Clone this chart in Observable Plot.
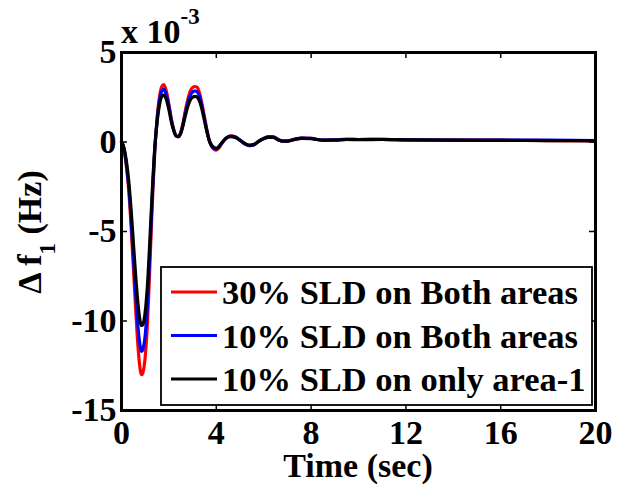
<!DOCTYPE html>
<html>
<head>
<meta charset="utf-8">
<script src="https://cdn.jsdelivr.net/npm/d3@7"></script>
<script src="https://cdn.jsdelivr.net/npm/@observablehq/plot@0.6"></script>
<style>
  html, body { margin: 0; padding: 0; background: #fff; }
  #chart { width: 625px; height: 493px; }
</style>
</head>
<body>
<div id="chart"></div>
<script>
// ---- data (values in units of 1e-3 Hz) ----
const seriesNames = ["30% SLD on Both areas", "10% SLD on Both areas", "10% SLD on only area-1"];
const seriesColors = ["#ff0000", "#0000ff", "#000000"];

const time = [0, 0.1, 0.2, 0.3, 0.4, 0.5, 0.6, 0.7, 0.8, 0.85, 0.9, 1.0, 1.1, 1.2, 1.3, 1.4, 1.5, 1.6, 1.7, 1.78, 1.9, 2.0, 2.1, 2.2, 2.3, 2.4, 2.5, 2.6, 2.7, 2.8, 2.9, 3.0, 3.1, 3.2, 3.3, 3.4, 3.5, 3.6, 3.7, 3.8, 3.9, 4.0, 4.1, 4.2, 4.4, 4.6, 4.8, 5.0, 5.2, 5.4, 5.6, 5.8, 6.0, 6.2, 6.4, 6.6, 6.8, 7.0, 7.3, 7.6, 8.0, 8.5, 9, 9.5, 10, 11, 12, 14, 16, 18, 20];

const sld30Both = [0, -0.4, -1.3, -2.6, -4.6, -7.0, -9.4, -11.5, -12.8, -13.0, -12.9, -12.0, -10.0, -6.8, -3.4, -0.6, 1.3, 2.5, 3.1, 3.2, 2.8, 2.1, 1.3, 0.7, 0.35, 0.3, 0.55, 1.1, 1.8, 2.4, 2.85, 3.05, 3.1, 3.05, 2.7, 2.1, 1.4, 0.7, 0.1, -0.25, -0.4, -0.45, -0.35, -0.15, 0.2, 0.35, 0.3, 0.1, -0.1, -0.2, -0.15, 0.05, 0.2, 0.3, 0.3, 0.15, 0.05, 0.05, 0.15, 0.22, 0.2, 0.1, 0.12, 0.15, 0.14, 0.15, 0.12, 0.1, 0.1, 0.08, 0.06];

const sld10Both = [0, -0.35, -1.2, -2.4, -4.2, -6.4, -8.5, -10.4, -11.5, -11.7, -11.6, -10.8, -9.0, -6.1, -3.0, -0.5, 1.2, 2.3, 2.85, 2.95, 2.6, 2.0, 1.25, 0.7, 0.35, 0.3, 0.5, 1.0, 1.65, 2.2, 2.6, 2.8, 2.85, 2.8, 2.5, 1.95, 1.3, 0.65, 0.1, -0.2, -0.35, -0.4, -0.3, -0.12, 0.2, 0.33, 0.28, 0.1, -0.1, -0.2, -0.15, 0.05, 0.2, 0.28, 0.28, 0.14, 0.05, 0.05, 0.15, 0.22, 0.2, 0.1, 0.12, 0.15, 0.14, 0.15, 0.12, 0.1, 0.1, 0.1, 0.08];

const sld10Area1 = [0, -0.3, -1.0, -2.1, -3.7, -5.6, -7.5, -9.1, -10.1, -10.25, -10.2, -9.5, -7.9, -5.4, -2.7, -0.4, 1.1, 2.05, 2.55, 2.62, 2.35, 1.8, 1.15, 0.65, 0.35, 0.3, 0.48, 0.95, 1.5, 2.0, 2.35, 2.5, 2.55, 2.5, 2.25, 1.8, 1.2, 0.6, 0.1, -0.18, -0.3, -0.35, -0.27, -0.1, 0.2, 0.3, 0.26, 0.1, -0.08, -0.18, -0.13, 0.05, 0.18, 0.26, 0.26, 0.13, 0.05, 0.05, 0.14, 0.2, 0.18, 0.1, 0.11, 0.14, 0.13, 0.14, 0.12, 0.1, 0.09, 0.08, 0.07];

const seriesValues = [sld30Both, sld10Both, sld10Area1];

const xTicks = [0, 4, 8, 12, 16, 20];
const yTicks = [-15, -10, -5, 0, 5];
const xLabel = "Time (sec)";
const yLabelMain = "\u0394 f";
const yLabelSub = "1";
const yLabelUnit = " (Hz)";
const multiplierBase = "x 10";
const multiplierExp = "-3";

// ---- layout ----
const W = 625, H = 493;
const mL = 121, mR = 30, mT = 52, mB = 83;
const frameH = H - mT - mB;
const frameW = W - mL - mR;
const FONT = "'Liberation Serif', 'Times New Roman', serif";
const FS = 34;
const LFS = 34.5;

const tables = seriesValues.map((vals, k) => time.map((t, i) => ({t, v: vals[i], name: seriesNames[k]})));

const innerX = xTicks.slice(1, -1);
const innerY = yTicks.slice(1, -1);

const svg = Plot.plot({
  width: W,
  height: H,
  marginLeft: mL,
  marginRight: mR,
  marginTop: mT,
  marginBottom: mB,
  style: {fontFamily: FONT, fontWeight: "bold", fontSize: FS + "px", background: "#fff", color: "#000"},
  x: {domain: [0, 20]},
  y: {domain: [-15, 5]},
  marks: [
    ...tables.map((tbl, k) => Plot.line(tbl, {x: "t", y: "v", stroke: seriesColors[k], strokeWidth: 3.2, curve: "monotone-x"})),
    Plot.ruleX(innerX, {x: d => d, insetTop: frameH - 6, stroke: "#000", strokeWidth: 1.5}),
    Plot.ruleX(innerX, {x: d => d, insetBottom: frameH - 6, stroke: "#000", strokeWidth: 1.5}),
    Plot.ruleY(innerY, {y: d => d, insetRight: frameW - 6, stroke: "#000", strokeWidth: 1.5}),
    Plot.ruleY(innerY, {y: d => d, insetLeft: frameW - 6, stroke: "#000", strokeWidth: 1.5}),
    Plot.frame({stroke: "#000", strokeWidth: 3}),
    Plot.axisX(xTicks, {tickSize: 0, tickPadding: 9, fontSize: FS, fontWeight: "bold", fontFamily: FONT, tickFormat: d => String(d), label: null}),
    Plot.axisY(yTicks, {tickSize: 0, tickPadding: 5, fontSize: FS, fontWeight: "bold", fontFamily: FONT, tickFormat: d => String(d), label: null})
  ]
});

const s = d3.select(svg);

// x-axis title
s.append("text")
  .attr("x", (mL + (W - mR)) / 2)
  .attr("y", 477)
  .attr("text-anchor", "middle")
  .attr("font-family", FONT).attr("font-weight", "bold").attr("font-size", FS)
  .attr("fill", "#000")
  .text(xLabel);

// y-axis title with subscript
const yt = s.append("text")
  .attr("transform", `translate(41, ${(mT + H - mB) / 2 + 1}) rotate(-90)`)
  .attr("text-anchor", "middle")
  .attr("font-family", FONT).attr("font-weight", "bold").attr("font-size", FS)
  .attr("fill", "#000");
yt.append("tspan").text(yLabelMain);
yt.append("tspan").attr("font-size", 23).attr("dy", 14).text(yLabelSub);
yt.append("tspan").attr("dy", -14).text(yLabelUnit);

// multiplier x 10^-3
const mt = s.append("text")
  .attr("x", 121).attr("y", 43)
  .attr("text-anchor", "start")
  .attr("font-family", FONT).attr("font-weight", "bold").attr("font-size", FS)
  .attr("fill", "#000");
mt.append("tspan").text(multiplierBase);
mt.append("tspan").attr("font-size", 23).attr("dy", -19).text(multiplierExp);

// legend
const lg = s.append("g");
lg.append("rect")
  .attr("x", 161).attr("y", 267).attr("width", 431).attr("height", 138)
  .attr("fill", "#fff").attr("stroke", "#000").attr("stroke-width", 1.8);
seriesNames.forEach((name, k) => {
  const cy = 292 + k * 43.5;
  lg.append("line")
    .attr("x1", 171).attr("x2", 217).attr("y1", cy).attr("y2", cy)
    .attr("stroke", seriesColors[k]).attr("stroke-width", 3.2);
  lg.append("text")
    .attr("x", 222).attr("y", cy + 12)
    .attr("text-anchor", "start")
    .attr("font-family", FONT).attr("font-weight", "bold").attr("font-size", LFS)
    .attr("fill", "#000")
    .text(name);
});

document.getElementById("chart").appendChild(svg);
</script>
</body>
</html>
